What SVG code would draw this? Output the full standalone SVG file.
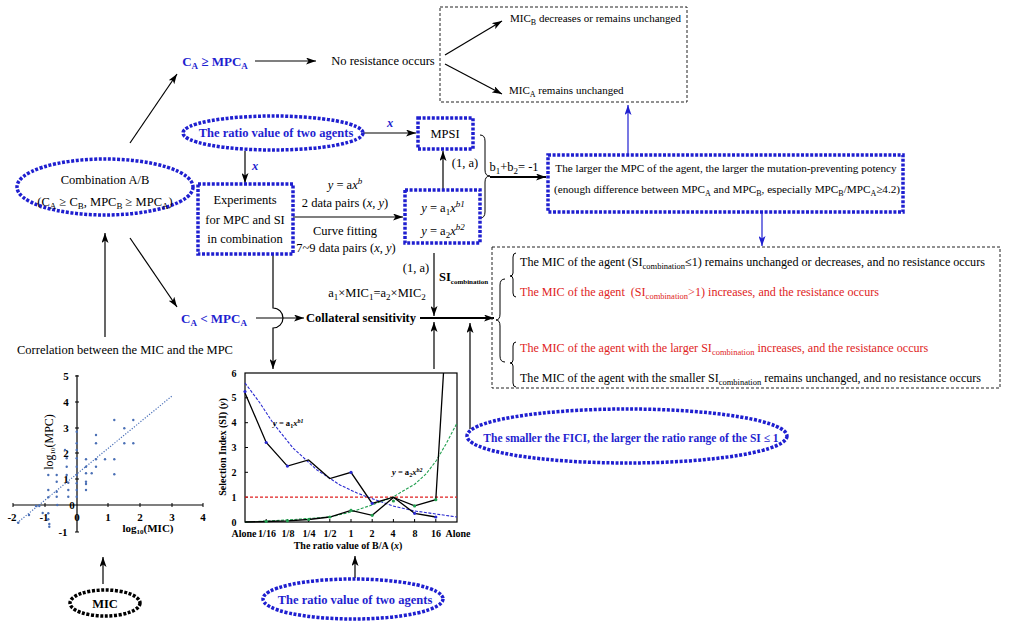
<svg xmlns="http://www.w3.org/2000/svg" width="1024" height="628" viewBox="0 0 1024 628">
<defs>
<style>
.t{font-family:"Liberation Serif","Times New Roman",serif;font-size:12.5px;fill:#000}
.b{font-weight:bold}
.i{font-style:italic}
.blue{fill:#1f1fd0}
.red{fill:#e02424}
.sm{font-size:9px}
.ax{font-family:"Liberation Serif","Times New Roman",serif;font-size:10px;font-weight:bold;fill:#000}
.dotb{fill:none;stroke:#1f1fd0;stroke-width:3.5;stroke-dasharray:3 1.6}
.dotk{fill:none;stroke:#000;stroke-width:3.5;stroke-dasharray:3 1.6}
.dash{fill:none;stroke:#222;stroke-width:1;stroke-dasharray:3 2}
.ln{stroke:#000;stroke-width:1.2;fill:none}
.lnb{stroke:#1f1fd0;stroke-width:1.2;fill:none}
.br{stroke:#000;stroke-width:1;fill:none}
</style>
<marker id="ah" viewBox="0 0 10 7" refX="10" refY="3.5" markerWidth="10" markerHeight="7" markerUnits="userSpaceOnUse" orient="auto"><path d="M0,0 L10,3.5 L0,7 L2.5,3.5z" fill="#000"/></marker>
<marker id="ahb" viewBox="0 0 10 7" refX="10" refY="3.5" markerWidth="10" markerHeight="7" markerUnits="userSpaceOnUse" orient="auto"><path d="M0,0 L10,3.5 L0,7 L2.5,3.5z" fill="#1f1fd0"/></marker>
</defs>
<rect width="1024" height="628" fill="#fff"/>

<g id="connectors">
<line class="ln" x1="130" y1="143" x2="177" y2="74" marker-end="url(#ah)"/>
<line class="ln" x1="255" y1="61" x2="316" y2="61" marker-end="url(#ah)"/>
<line class="ln" x1="445" y1="55" x2="502" y2="21" marker-end="url(#ah)"/>
<line class="ln" x1="445" y1="64" x2="502" y2="94" marker-end="url(#ah)"/>
<line class="ln" x1="363" y1="133" x2="416" y2="133" marker-end="url(#ah)"/>
<line class="ln" x1="245" y1="151" x2="245" y2="183" marker-end="url(#ah)"/>
<line class="ln" x1="293" y1="217" x2="403" y2="217" marker-end="url(#ah)"/>
<line class="ln" x1="443" y1="189" x2="443" y2="151" marker-end="url(#ah)"/>
<path class="br" d="M480,135 Q485,135 485,141 L485,170 Q485,176 490,176 Q485,176 485,182 L485,212 Q485,218 480,218"/>
<line x1="490" y1="177" x2="546" y2="177" stroke="#000" stroke-width="1.8" marker-end="url(#ah)"/>
<line class="lnb" x1="628" y1="155" x2="628" y2="105" marker-end="url(#ahb)"/>
<line class="lnb" x1="762" y1="213" x2="762" y2="246" marker-end="url(#ahb)"/>
<line class="ln" x1="105" y1="337" x2="105" y2="233" marker-end="url(#ah)"/>
<line class="ln" x1="130" y1="238" x2="177" y2="307" marker-end="url(#ah)"/>
<line class="ln" x1="256" y1="318" x2="304" y2="318" marker-end="url(#ah)"/>
<path class="ln" d="M273,254 V308 A10,10 0 0 1 273,328 V369" marker-end="url(#ah)"/>
<line x1="420" y1="318" x2="494" y2="318" stroke="#000" stroke-width="1.8" marker-end="url(#ah)"/>
<line class="ln" x1="434" y1="253" x2="434" y2="316" marker-end="url(#ah)"/>
<line class="ln" x1="434" y1="369" x2="434" y2="322" marker-end="url(#ah)"/>
<line class="ln" x1="470" y1="429" x2="470" y2="323" marker-end="url(#ah)"/>
<line class="ln" x1="355" y1="578" x2="355" y2="556" marker-end="url(#ah)"/>
<line class="ln" x1="103" y1="584" x2="103" y2="557" marker-end="url(#ah)"/>
</g>

<g id="labels">
<text class="t i b blue" x="390" y="127" text-anchor="middle">x</text>
<text class="t i b blue" x="255" y="170" text-anchor="middle">x</text>
<text class="t" x="345" y="189" text-anchor="middle"><tspan class="i">y</tspan> = a<tspan class="i">x</tspan><tspan class="sm i" dy="-5">b</tspan></text>
<text class="t" x="345" y="207" text-anchor="middle">2 data pairs (<tspan class="i">x</tspan>, <tspan class="i">y</tspan>)</text>
<text class="t" x="345" y="235" text-anchor="middle">Curve fitting</text>
<text class="t" x="346" y="252" text-anchor="middle">7~9 data pairs (<tspan class="i">x</tspan>, <tspan class="i">y</tspan>)</text>
<text class="t" x="465" y="167" text-anchor="middle">(1, a)</text>
<text class="t" x="514" y="171" text-anchor="middle">b<tspan class="sm" dy="3">1</tspan><tspan dy="-3">+b</tspan><tspan class="sm" dy="3">2</tspan><tspan dy="-3">= -1</tspan></text>
<text class="t" x="416" y="272" text-anchor="middle">(1, a)</text>
<text class="t b" x="439" y="281">SI<tspan style="font-size:7px" dy="2.5">combination</tspan></text>
<text class="t" x="377" y="297" text-anchor="middle">a<tspan class="sm" dy="3">1</tspan><tspan dy="-3">×MIC</tspan><tspan class="sm" dy="3">1</tspan><tspan dy="-3">=a</tspan><tspan class="sm" dy="3">2</tspan><tspan dy="-3">×MIC</tspan><tspan class="sm" dy="3">2</tspan></text>
</g>

<g id="n-ca-ge">
<text class="t b blue" x="215" y="66" text-anchor="middle" style="font-size:13px">C<tspan class="sm" dy="3">A</tspan><tspan dy="-3"> ≥  MPC</tspan><tspan class="sm" dy="3">A</tspan></text>
</g>
<g id="n-nores">
<text class="t" x="383" y="65" text-anchor="middle">No resistance occurs</text>
</g>
<g id="n-topbox">
<rect class="dash" x="440" y="7" width="247" height="95"/>
<text class="t" x="510" y="22" style="font-size:11px">MIC<tspan style="font-size:8px" dy="3">B</tspan><tspan dy="-3"> decreases or remains unchanged</tspan></text>
<text class="t" x="509" y="94" style="font-size:11px">MIC<tspan style="font-size:8px" dy="3">A</tspan><tspan dy="-3"> remains unchanged</tspan></text>
</g>
<g id="n-ratio-top">
<ellipse class="dotb" cx="273" cy="133" rx="90" ry="17"/>
<text class="t b blue" x="276" y="137" text-anchor="middle">The ratio value of two agents</text>
</g>
<g id="n-mpsi">
<rect class="dotb" x="418" y="118" width="55" height="31"/>
<text class="t" x="445" y="138" text-anchor="middle">MPSI</text>
</g>
<g id="n-combo">
<ellipse class="dotb" cx="105" cy="187" rx="88" ry="28"/>
<text class="t" x="105" y="184" text-anchor="middle">Combination A/B</text>
<text class="t" x="105" y="206" text-anchor="middle">(C<tspan class="sm" dy="3">A</tspan><tspan dy="-3"> ≥ C</tspan><tspan class="sm" dy="3">B</tspan><tspan dy="-3">, MPC</tspan><tspan class="sm" dy="3">B</tspan><tspan dy="-3"> ≥ MPC</tspan><tspan class="sm" dy="3">A</tspan><tspan dy="-3">)</tspan></text>
</g>
<g id="n-exp">
<rect class="dotb" x="198" y="184" width="95" height="70"/>
<text class="t" x="245" y="204" text-anchor="middle">Experiments</text>
<text class="t" x="245" y="224" text-anchor="middle">for MPC and SI</text>
<text class="t" x="245" y="243" text-anchor="middle">in combination</text>
</g>
<g id="n-formula">
<rect class="dotb" x="405" y="190" width="75" height="53"/>
<text class="t" x="443" y="212" text-anchor="middle"><tspan class="i">y</tspan> = a<tspan class="sm" dy="3">1</tspan><tspan class="i" dy="-3">x</tspan><tspan class="sm i" dy="-5">b1</tspan></text>
<text class="t" x="443" y="235" text-anchor="middle"><tspan class="i">y</tspan> = a<tspan class="sm" dy="3">2</tspan><tspan class="i" dy="-3">x</tspan><tspan class="sm i" dy="-5">b2</tspan></text>
</g>
<g id="n-mpc-box">
<rect class="dotb" x="548" y="155" width="355" height="57"/>
<text class="t" x="726" y="172" text-anchor="middle" style="font-size:11.2px">The larger the MPC of the agent, the larger the mutation-preventing potency</text>
<text class="t" x="727" y="193" text-anchor="middle" style="font-size:11.2px">(enough difference between MPC<tspan style="font-size:8px" dy="3">A</tspan><tspan dy="-3"> and MPC</tspan><tspan style="font-size:8px" dy="3">B</tspan><tspan dy="-3">, especially MPC</tspan><tspan style="font-size:8px" dy="3">B</tspan><tspan dy="-3">/MPC</tspan><tspan style="font-size:8px" dy="3">A</tspan><tspan dy="-3">≥4.2)</tspan></text>
</g>
<g id="n-ca-lt">
<text class="t b blue" x="214" y="323" text-anchor="middle" style="font-size:13px">C<tspan class="sm" dy="3">A</tspan><tspan dy="-3"> &lt;  MPC</tspan><tspan class="sm" dy="3">A</tspan></text>
</g>
<g id="n-coll">
<text class="t b" x="361" y="322" text-anchor="middle">Collateral sensitivity</text>
</g>
<g id="n-corr">
<text class="t" x="125" y="354" text-anchor="middle">Correlation between the MIC and the MPC</text>
</g>
<g id="n-outcomes">
<rect class="dash" x="492" y="247" width="508" height="141"/>
<path class="br" d="M505,279 Q500,279 500,285 L500,314 Q500,320 496,320 Q500,320 500,326 L500,356 Q500,362 505,362"/>
<path class="br" d="M516,253 Q513,253 513,257 L513,273 Q513,276 510,276 Q513,276 513,279 L513,293 Q513,297 516,297"/>
<path class="br" d="M516,342 Q513,342 513,346 L513,360 Q513,363 510,363 Q513,363 513,366 L513,383 Q513,387 516,387"/>
<text class="t" x="520" y="266" style="font-size:12.1px">The MIC of the agent (SI<tspan style="font-size:8.5px" dy="3">combination</tspan><tspan dy="-3">≤1) remains unchanged or decreases, and no resistance occurs</tspan></text>
<text class="t red" x="520" y="296" style="font-size:12.1px">The MIC of the agent &#160;(SI<tspan style="font-size:8.5px" dy="3">combination</tspan><tspan dy="-3">&gt;1) increases, and the resistance occurs</tspan></text>
<text class="t red" x="520" y="352" style="font-size:12.1px">The MIC of the agent with the larger SI<tspan style="font-size:8.5px" dy="3">combination</tspan><tspan dy="-3"> increases, and the resistance occurs</tspan></text>
<text class="t" x="520" y="382" style="font-size:12.05px">The MIC of the agent with the smaller SI<tspan style="font-size:8.5px" dy="3">combination</tspan><tspan dy="-3"> remains unchanged, and no resistance occurs</tspan></text>
</g>
<g id="n-fici">
<ellipse class="dotb" cx="627" cy="436" rx="160" ry="27"/>
<text class="t b blue" x="631" y="442" text-anchor="middle" style="font-size:11.5px">The smaller the FICI, the larger the ratio range of the SI ≤ 1</text>
</g>
<g id="n-ratio-bottom">
<ellipse class="dotb" cx="353" cy="599" rx="90" ry="20"/>
<text class="t b blue" x="355" y="604" text-anchor="middle">The ratio value of two agents</text>
</g>
<g id="n-mic">
<ellipse class="dotk" cx="105" cy="603" rx="35" ry="13"/>
<text class="t b" x="105" y="608" text-anchor="middle">MIC</text>
</g>

<g id="n-scatter">
<line class="ln" x1="13" y1="505" x2="203" y2="505" stroke-width="1"/>
<line class="ln" x1="77" y1="375" x2="77" y2="532" stroke-width="1"/>
<g stroke="#000" stroke-width="1">
<line x1="13" y1="503" x2="13" y2="507"/><line x1="45" y1="503" x2="45" y2="507"/><line x1="108" y1="503" x2="108" y2="507"/><line x1="140" y1="503" x2="140" y2="507"/><line x1="172" y1="503" x2="172" y2="507"/><line x1="203" y1="503" x2="203" y2="507"/>
<line x1="75" y1="376" x2="79" y2="376"/><line x1="75" y1="402" x2="79" y2="402"/><line x1="75" y1="428" x2="79" y2="428"/><line x1="75" y1="453" x2="79" y2="453"/><line x1="75" y1="479" x2="79" y2="479"/><line x1="75" y1="532" x2="79" y2="532"/>
</g>
<g class="ax" text-anchor="middle" style="font-size:11px">
<text x="66" y="380">5</text><text x="66" y="406">4</text><text x="66" y="432">3</text><text x="66" y="457">2</text><text x="66" y="483">1</text><text x="72" y="509">0</text><text x="63" y="536">-1</text>
<text x="12" y="521">-2</text><text x="44" y="521">-1</text><text x="77" y="521">0</text><text x="108" y="521">1</text><text x="140" y="521">2</text><text x="172" y="521">3</text><text x="203" y="521">4</text>
</g>
<text class="ax" x="148" y="532" text-anchor="middle" style="font-size:11px">log<tspan style="font-size:7px" dy="2">10</tspan><tspan dy="-2">(MIC)</tspan></text>
<text class="t" transform="translate(53,442) rotate(-90)" text-anchor="middle" style="font-size:12px">log<tspan style="font-size:7px" dy="2">10</tspan><tspan dy="-2">(MPC)</tspan></text>
<line x1="17" y1="523" x2="172" y2="396" stroke="#4a70b8" stroke-width="1.2" stroke-dasharray="1.2 1.6"/>
<g fill="#4a6fb5">
<circle cx="18.3" cy="522.7" r="1.2"/><circle cx="29" cy="515" r="1.2"/><circle cx="36" cy="506" r="1.2"/><circle cx="39.3" cy="506" r="1.2"/><circle cx="42.7" cy="513" r="1.2"/>
<circle cx="48.3" cy="475" r="1.2"/><circle cx="48.3" cy="490" r="1.2"/><circle cx="48.3" cy="497.3" r="1.2"/><circle cx="48.3" cy="513.3" r="1.2"/><circle cx="48.3" cy="519.3" r="1.2"/><circle cx="49.3" cy="524" r="1.2"/><circle cx="49.3" cy="526.7" r="1.2"/>
<circle cx="56.7" cy="475" r="1.2"/><circle cx="56.7" cy="481.7" r="1.2"/><circle cx="56.7" cy="491.7" r="1.2"/><circle cx="56.7" cy="496.7" r="1.2"/><circle cx="57.3" cy="505" r="1.2"/>
<circle cx="65" cy="450" r="1.2"/><circle cx="66.7" cy="458.3" r="1.2"/><circle cx="66.7" cy="466.7" r="1.2"/><circle cx="66.7" cy="475" r="1.2"/><circle cx="68.3" cy="482.7" r="1.2"/><circle cx="68.3" cy="490" r="1.2"/><circle cx="68.3" cy="496.7" r="1.2"/>
<circle cx="76.7" cy="431.7" r="1.2"/><circle cx="76.7" cy="443.3" r="1.2"/><circle cx="76.7" cy="450" r="1.2"/><circle cx="76.7" cy="458.3" r="1.2"/><circle cx="76.7" cy="466.7" r="1.2"/><circle cx="76.7" cy="475" r="1.2"/><circle cx="76.7" cy="483.3" r="1.2"/><circle cx="76.7" cy="490" r="1.2"/><circle cx="76.7" cy="496.7" r="1.2"/>
<circle cx="86" cy="459.3" r="1.2"/><circle cx="86" cy="466.7" r="1.2"/><circle cx="86" cy="473.3" r="1.2"/><circle cx="86" cy="481.7" r="1.2"/><circle cx="86" cy="484" r="1.2"/><circle cx="86" cy="490" r="1.2"/>
<circle cx="91.7" cy="473.3" r="1.2"/><circle cx="96" cy="435" r="1.2"/><circle cx="96" cy="443.3" r="1.2"/><circle cx="96" cy="459.3" r="1.2"/><circle cx="96" cy="466.7" r="1.2"/>
<circle cx="105" cy="459.3" r="1.2"/><circle cx="114.3" cy="420" r="1.2"/><circle cx="114.3" cy="459.3" r="1.2"/><circle cx="114.3" cy="474.3" r="1.2"/>
<circle cx="124.3" cy="428.3" r="1.2"/><circle cx="124.3" cy="443.3" r="1.2"/><circle cx="133.3" cy="420" r="1.2"/><circle cx="133.3" cy="443.3" r="1.2"/>
</g>
</g>

<g id="n-si-chart">
<rect x="245" y="373" width="212" height="149" fill="none" stroke="#000" stroke-width="1.2"/>
<g stroke="#000" stroke-width="1">
<line x1="245" y1="397.8" x2="248" y2="397.8"/><line x1="245" y1="422.7" x2="248" y2="422.7"/><line x1="245" y1="447.5" x2="248" y2="447.5"/><line x1="245" y1="472.3" x2="248" y2="472.3"/><line x1="245" y1="497.2" x2="248" y2="497.2"/>
<line x1="266.2" y1="522" x2="266.2" y2="519"/><line x1="287.4" y1="522" x2="287.4" y2="519"/><line x1="308.6" y1="522" x2="308.6" y2="519"/><line x1="329.8" y1="522" x2="329.8" y2="519"/><line x1="351" y1="522" x2="351" y2="519"/><line x1="372.2" y1="522" x2="372.2" y2="519"/><line x1="393.4" y1="522" x2="393.4" y2="519"/><line x1="414.6" y1="522" x2="414.6" y2="519"/><line x1="435.8" y1="522" x2="435.8" y2="519"/>
</g>
<g class="ax" text-anchor="middle">
<text x="234" y="377">6</text><text x="234" y="401">5</text><text x="234" y="426">4</text><text x="234" y="451">3</text><text x="234" y="476">2</text><text x="234" y="501">1</text><text x="234" y="526">0</text>
<text x="244" y="537">Alone</text><text x="267" y="537">1/16</text><text x="288" y="537">1/8</text><text x="309" y="537">1/4</text><text x="330" y="537">1/2</text><text x="351" y="537">1</text><text x="372" y="537">2</text><text x="393" y="537">4</text><text x="415" y="537">8</text><text x="436" y="537">16</text><text x="458" y="537">Alone</text>
<text x="348" y="549">The ratio value of B/A (<tspan font-style="italic">x</tspan>)</text>
<text transform="translate(226,447) rotate(-90)">Selection Index (SI) (<tspan font-style="italic">y</tspan>)</text>
</g>
<line x1="245" y1="497.2" x2="457" y2="497.2" stroke="#e02020" stroke-width="1.2" stroke-dasharray="3 2"/>
<polyline points="245,383 260,403 273,423 293,448 317,470 340,485 357,493 373,499 393,506 415,511 436,514 457,517" fill="none" stroke="#2a2ad0" stroke-width="1.1" stroke-dasharray="3 1.5"/>
<polyline points="245,522 287,520 330,517 351,512 372,505 393,497 415,484 426,474 436,461 446,444 457,423" fill="none" stroke="#22a050" stroke-width="1.1" stroke-dasharray="3 1.5"/>
<polyline points="245,392.9 266.2,442.5 287.4,466.1 308.6,459.9 329.8,478.5 351,472.3 372.2,503.4 393.4,497.2 414.6,513.3 435.8,517" fill="none" stroke="#000" stroke-width="1.3"/>
<polyline points="245,522 266.2,521.5 287.4,520.8 308.6,519.5 329.8,517 351,510.3 372.2,515.3 393.4,497.5 414.6,505.9 435.8,499.7 443.5,373" fill="none" stroke="#000" stroke-width="1.3"/>
<g fill="#2a2ad0">
<circle cx="245" cy="391.6" r="1.6"/><circle cx="266.2" cy="442.5" r="1.6"/><circle cx="287.4" cy="466.1" r="1.6"/><circle cx="351" cy="472.3" r="1.6"/><circle cx="372.2" cy="503.4" r="1.6"/><circle cx="414.6" cy="513.3" r="1.6"/><circle cx="435.8" cy="517" r="1.6"/>
</g>
<g fill="#22a050">
<circle cx="266.2" cy="521.5" r="1.6"/><circle cx="287.4" cy="520.8" r="1.6"/><circle cx="308.6" cy="519.5" r="1.6"/><circle cx="329.8" cy="517" r="1.6"/><circle cx="351" cy="510.3" r="1.6"/><circle cx="372.2" cy="515.3" r="1.6"/><circle cx="393.4" cy="501" r="1.6"/><circle cx="414.6" cy="505.9" r="1.6"/><circle cx="435.8" cy="499.7" r="1.6"/>
</g>
<text class="ax" x="273" y="426" style="font-size:8.5px"><tspan font-style="italic">y</tspan> = a<tspan style="font-size:6px" dy="2">1</tspan><tspan font-style="italic" dy="-2">x</tspan><tspan style="font-size:6px;font-style:italic" dy="-3">b1</tspan></text>
<text class="ax" x="392" y="475" style="font-size:8.5px"><tspan font-style="italic">y</tspan> = a<tspan style="font-size:6px" dy="2">2</tspan><tspan font-style="italic" dy="-2">x</tspan><tspan style="font-size:6px;font-style:italic" dy="-3">b2</tspan></text>
</g>
</svg>
